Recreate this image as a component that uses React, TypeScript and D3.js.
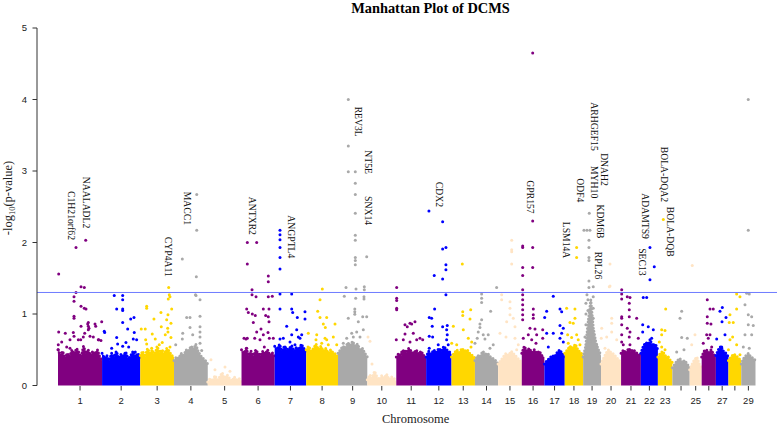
import React from "react";
import * as d3 from "d3";

// Bovine autosomes and approximate lengths (Mb)
const chromosomes = d3.range(1, 30);
const chrLengthsMb = [158,137,121,121,121,119,113,114,105,104,107,91,84,83,85,81,73,66,64,72,71,61,52,62,43,51,45,46,51];
const tickLabels = ["1","2","3","4","5","6","7","8","9","10","11","12","13","14","15","16","17","18","19","20","21","22","23","","25","","27","","29"];
const palette = ["#800080", "#0000FF", "#FFD700", "#A9A9A9", "#FFE4C4"];
const yTicks = [0, 1, 2, 3, 4, 5];
const significance = 0.05;

// Upper edge (-log10 p) of the dense SNP cloud per chromosome, evenly spaced along each chromosome
const cloudTop = [
  [0.50,0.42,0.48,0.38,0.45,0.40,0.50,0.44,0.52,0.46,0.40,0.55,0.45,0.50,0.42,0.48,0.44,0.50,0.40,0.35],
  [0.45,0.38,0.42,0.35,0.45,0.40,0.48,0.38,0.44,0.40,0.46,0.36,0.42,0.48,0.40,0.45,0.38],
  [0.42,0.48,0.40,0.52,0.45,0.50,0.42,0.55,0.46,0.50,0.44,0.52,0.48,0.42,0.40],
  [0.35,0.40,0.38,0.45,0.42,0.50,0.48,0.55,0.50,0.58,0.48,0.42,0.38,0.35,0.30],
  [0.05,0.10,0.06,0.14,0.08,0.12,0.18,0.08,0.15,0.10,0.06,0.12,0.08,0.10,0.04],
  [0.50,0.45,0.52,0.42,0.48,0.40,0.50,0.45,0.42,0.48,0.44,0.50,0.42,0.46,0.40],
  [0.55,0.50,0.58,0.48,0.55,0.50,0.52,0.56,0.48,0.54,0.50,0.58,0.52,0.48],
  [0.50,0.55,0.48,0.52,0.58,0.50,0.55,0.48,0.52,0.45,0.50,0.46,0.44,0.40],
  [0.45,0.50,0.55,0.52,0.60,0.56,0.62,0.55,0.58,0.50,0.52,0.45,0.40],
  [0.08,0.15,0.10,0.20,0.12,0.08,0.14,0.10,0.16,0.08,0.12,0.10,0.06],
  [0.40,0.45,0.42,0.50,0.46,0.52,0.48,0.45,0.50,0.44,0.48,0.42,0.40],
  [0.40,0.48,0.44,0.50,0.46,0.52,0.48,0.55,0.50,0.48,0.44],
  [0.40,0.45,0.50,0.46,0.52,0.48,0.50,0.45,0.42,0.38],
  [0.35,0.42,0.40,0.48,0.44,0.45,0.40,0.38,0.35,0.30],
  [0.30,0.35,0.40,0.45,0.42,0.48,0.44,0.40,0.36,0.32],
  [0.45,0.55,0.48,0.52,0.46,0.50,0.45,0.48,0.42,0.40],
  [0.30,0.35,0.38,0.42,0.40,0.46,0.50,0.45,0.40],
  [0.45,0.50,0.55,0.52,0.58,0.50,0.46,0.42],
  [0.40,0.55,0.90,1.20,0.80,0.60,0.50,0.42],
  [0.30,0.38,0.45,0.50,0.46,0.44,0.40,0.36,0.32],
  [0.45,0.50,0.45,0.52,0.48,0.50,0.46,0.44,0.42],
  [0.45,0.55,0.60,0.58,0.62,0.55,0.58,0.50],
  [0.40,0.45,0.48,0.42,0.40,0.36,0.32],
  [0.25,0.30,0.35,0.38,0.32,0.35,0.30,0.25],
  [0.22,0.30,0.36,0.40,0.30,0.25],
  [0.40,0.48,0.50,0.46,0.50,0.44,0.40],
  [0.42,0.50,0.55,0.48,0.45,0.40],
  [0.35,0.40,0.44,0.42,0.38,0.35],
  [0.30,0.38,0.42,0.45,0.40,0.38,0.35],
];

// Individual SNPs above the dense cloud: [chromosome, position (Mb), -log10 p]
const snps: [number, number, number][] = [
  [1,2.5,1.56],[1,64.5,1.93],[1,99.3,2.03],[1,82.5,1.38],[1,94.3,1.37],[1,64.5,1.30],[1,57.4,1.24],[1,57.4,1.18],[1,82.5,1.11],[1,94.3,1.08],[1,100.4,1.07],[1,57.4,0.97],[1,57.4,0.94],[1,82.5,0.83],[1,108.7,0.88],[1,108.7,0.83],[1,108.7,0.78],[1,132.7,0.86],[1,135.2,0.83],[1,156.7,0.89],[1,2.5,0.75],[1,26.2,0.73],[1,54.9,0.74],[1,57.4,0.69],[1,90.7,0.68],[1,114.8,0.69],[1,31.2,0.54],[1,81.4,0.64],[1,146,0.64],[1,154,0.63],[1,43,0.52],[1,1,0.5],[1,106.5,0.86],[1,111,0.80],[1,95.7,0.73],[1,126.6,0.68],[1,144.5,0.64],[1,72.8,0.64],[1,43,0.64],[1,13.3,0.61],[1,1,0.57],
  [2,43.7,1.26],[2,73.9,1.26],[2,73.9,1.20],[2,52.4,1.07],[2,73.9,1.07],[2,73.9,1.05],[2,114.4,0.95],[2,102.6,0.93],[2,73.9,0.88],[2,91.8,0.79],[2,7.9,0.76],[2,9.3,0.74],[2,115.5,0.74],[2,52.4,0.67],[2,111.9,0.65],[2,124,0.64],[2,85.7,0.60],[2,55.9,0.58],[2,73.9,0.55],[2,95.4,0.54],[2,34.4,0.52],[2,119,0.47],[2,82.1,0.45],
  [3,101.8,1.37],[3,104,1.27],[3,106.5,1.24],[3,100.4,1.21],[3,23,1.11],[3,23,1.08],[3,112.6,1.07],[3,74.2,1.02],[3,99.3,0.99],[3,49.1,0.93],[3,94.7,0.92],[3,110,0.87],[3,3.6,0.79],[3,17.9,0.79],[3,75.3,0.82],[3,98.3,0.80],[3,99.3,0.75],[3,43,0.72],[3,89.6,0.71],[3,19.4,0.64],[3,53.8,0.65],[3,110,0.67],[3,23,0.58],[3,68,0.57],[3,78.9,0.60],[3,40.9,0.52],[3,106.5,0.54],
  [4,81.4,2.67],[4,29.8,1.77],[4,81.4,2.17],[4,80,1.52],[4,78.9,1.26],[4,93.2,1.20],[4,45.5,0.95],[4,57.4,0.95],[4,93.2,0.97],[4,57.4,0.81],[4,93.2,0.82],[4,93.2,0.75],[4,31.2,0.73],[4,67,0.71],[4,93.2,0.68],[4,6,0.57],[4,29.8,0.65],[4,63.5,0.54],[4,93.2,0.59],[4,99.3,0.49],[4,77,1.27],
  [5,11.5,0.36],[5,61.7,0.26],[5,25.8,0.22],[5,79.6,0.20],
  [6,20.8,2.0],[6,54.5,2.0],[6,20.8,1.7],[6,96.1,1.53],[6,96.1,1.45],[6,37.7,1.34],[6,37.7,1.27],[6,52,1.24],[6,96.1,1.24],[6,110.4,1.25],[6,18.6,1.07],[6,24.4,1.02],[6,38.7,1.0],[6,49.5,0.98],[6,78.2,1.07],[6,98.6,1.07],[6,86.8,0.98],[6,96.1,0.96],[6,98.6,0.89],[6,42.3,0.88],[6,54.5,0.75],[6,69.9,0.79],[6,78.2,0.71],[6,95,0.74],[6,99.7,0.66],[6,9,0.66],[6,16.1,0.65],[6,20.8,0.66],[6,47.3,0.66],[6,66.3,0.64],[6,81.8,0.54],[6,114,0.66],[6,18.6,0.52],
  [7,19,2.17],[7,19,2.11],[7,19,2.04],[7,19,1.93],[7,19,1.79],[7,19,1.63],[7,19,1.28],[7,61,1.28],[7,19,1.07],[7,61,1.07],[7,64.5,1.02],[7,81,0.95],[7,108.6,1.03],[7,108.6,0.93],[7,43,0.83],[7,78.9,0.78],[7,96.8,0.71],[7,90.7,0.66],[7,61,0.71],[7,30.8,0.66],[7,19,0.65],[7,54.9,0.61],[7,84.6,0.68],[7,36.9,0.54],[7,72.8,0.57],
  [8,57.7,1.35],[8,49.5,1.20],[8,41.2,1.04],[8,49.5,0.95],[8,73.5,0.95],[8,61.3,0.86],[8,68.5,0.81],[8,103.3,0.86],[8,37.7,0.71],[8,67.4,0.66],[8,73.5,0.64],[8,97.2,0.68],[8,35.1,0.64],[8,7.5,0.73],[8,55.6,0.59],[8,79.2,0.57],[8,109.4,0.57],
  [9,36.9,4.0],[9,36.9,3.35],[9,36.9,2.99],[9,62,2.99],[9,62,2.83],[9,62,2.67],[9,62,2.41],[9,62,2.10],[9,62,2.03],[9,62,1.79],[9,62,1.75],[9,62,1.69],[9,102.9,1.80],[9,28.7,1.37],[9,64.5,1.35],[9,94.3,1.38],[9,94.3,1.34],[9,22.6,1.25],[9,63.5,1.22],[9,93.2,1.24],[9,93.2,1.21],[9,60.2,1.07],[9,60.2,1.03],[9,60.2,0.995],[9,88.6,0.96],[9,102.9,0.96],[9,36.9,0.94],[9,72.8,0.89],[9,90.7,0.78],[9,67,0.75],[9,49.1,0.73],[9,31.2,0.66],[9,19,0.59],[9,54.9,0.68],[9,78.9,0.68],[9,36.9,0.58],
  [10,2.5,0.68],[10,9.7,0.62],[10,17,0.30],
  [11,1.4,1.37],[11,1.4,1.22],[11,1.4,1.19],[11,1.4,1.08],[11,1.4,1.06],[11,0,0.64],[11,31.2,0.85],[11,39.4,0.82],[11,67,0.89],[11,55.2,0.86],[11,31.2,0.72],[11,25.1,0.64],[11,61,0.73],[11,73.2,0.64],[11,85,0.66],[11,94.7,0.64],[11,49.1,0.61],[11,19.4,0.47],[11,49.1,0.87],
  [12,10,2.44],[12,59.2,2.29],[12,59.2,1.91],[12,71,1.93],[12,71,1.69],[12,71,1.62],[12,59.2,1.49],[12,29,1.54],[12,71,1.27],[12,30.5,1.07],[12,11.1,0.95],[12,19.7,0.94],[12,21.9,0.83],[12,59.2,0.82],[12,75.7,0.84],[12,73.5,0.78],[12,11.1,0.69],[12,23.3,0.68],[12,75.7,0.71],[12,73.5,0.64],[12,11.1,0.52],[12,43.4,0.57],[12,79.2,0.57],
  [13,38.7,1.70],[13,40.2,1.03],[13,68.8,1.06],[13,40.2,0.98],[13,66.3,0.93],[13,6.5,0.83],[13,42.3,0.78],[13,60.2,0.66],[13,72.4,0.61],[13,69.9,0.54],[13,0.7,0.59],[13,18.6,0.57],
  [14,77.8,1.37],[14,24,1.28],[14,24,1.22],[14,24,1.16],[14,56.3,1.04],[14,24,0.92],[14,17.9,0.86],[14,17.9,0.81],[14,11.8,0.75],[14,29.8,0.71],[14,47.7,0.71],[14,8.2,0.66],[14,35.9,0.65],[14,65.6,0.57],[14,0,0.59],[14,53.8,0.52],
  [15,48.8,2.03],[15,48.8,1.90],[15,48.8,1.87],[15,48.8,1.70],[15,12.9,1.27],[15,12.9,1.20],[15,42.7,1.17],[15,42.7,1.08],[15,42.7,0.99],[15,54.5,0.94],[15,30.8,0.89],[15,60.6,0.82],[15,6.8,0.73],[15,28.3,0.68],[15,60.6,0.66],[15,72.4,0.57],[15,66.7,0.50],
  [16,39.1,4.65],[16,3.2,1.95],[16,3.2,1.93],[16,39.1,2.30],[16,39.1,1.93],[16,39.1,1.65],[16,3.2,1.65],[16,3.2,1.54],[16,3.2,1.34],[16,3.2,1.27],[16,3.2,1.20],[16,3.2,1.13],[16,3.2,1.06],[16,3.2,0.99],[16,3.2,0.92],[16,41.2,1.07],[16,41.2,0.99],[16,41.2,0.94],[16,29.4,0.80],[16,47.3,0.79],[16,53.4,0.71],[16,23.3,0.71],[16,5.4,0.66],[16,35.5,0.64],[16,50.9,0.59],[16,75,0.78],[16,75,0.66],
  [17,31.9,1.25],[17,8.2,1.04],[17,1,0.95],[17,8.2,0.73],[17,31.9,0.73],[17,55.9,1.07],[17,62,1.03],[17,55.9,0.84],[17,67.8,0.80],[17,62,0.73],[17,55.9,0.66],[17,67.8,0.61],[17,14,0.54],
  [18,42.7,1.93],[18,42.7,1.79],[18,6.8,1.08],[18,36.6,1.07],[18,36.6,0.94],[18,18.6,0.88],[18,30.5,0.87],[18,10.4,0.71],[18,24.7,0.67],[18,42.7,0.71],[18,48.4,0.64],[18,12.6,0.59],[18,54.5,0.57],[18,18.6,0.54],
  [19,21.9,2.41],[19,2.9,2.17],[19,13.6,2.17],[19,24.4,2.17],[19,20.8,2.03],[19,20.8,1.93],[19,20.8,1.79],[19,20.8,1.75],[19,20.8,1.46],[19,20.8,1.37],[19,36.2,1.38],[19,13.6,1.27],[19,36.2,1.24],[19,17.2,1.20],[19,10,1.15],[19,36.2,1.08],[19,17.2,1.05],[19,10,1.0],[19,36.2,0.94],[19,20.8,0.90],[19,10,0.85],[19,30.5,0.80],[19,17.2,0.75],[19,36.2,0.71],[19,6.5,0.68],[19,24.4,0.62],[19,48.4,0.57],
  [20,32.3,1.70],[20,32.3,1.39],[20,29.8,1.38],[20,38.4,0.94],[20,38.4,0.87],[20,2.5,0.80],[20,38.4,0.75],[20,20.4,0.68],[20,1,0.66],[20,56.3,0.64],[20,14.3,0.52],
  [21,2.2,1.34],[21,2.2,1.28],[21,2.2,1.21],[21,22.2,1.24],[21,31.9,1.23],[21,29.4,1.15],[21,29.4,1.06],[21,2.2,0.96],[21,2.2,0.94],[21,29.4,0.96],[21,55.9,0.94],[21,2.2,0.85],[21,22.2,0.80],[21,31.9,0.75],[21,2.2,0.71],[21,29.4,0.68],[21,61.7,0.66],[21,2.2,0.61],[21,31.9,0.57],[21,7.9,0.57],
  [22,32.6,1.93],[22,48,1.66],[22,32.6,1.48],[22,8.6,1.23],[22,20.8,1.23],[22,6.5,0.85],[22,26.5,0.82],[22,44.5,0.78],[22,6.5,0.75],[22,38.7,0.66],[22,32.6,0.64],[22,14.7,0.57],[22,44.5,0.57],[22,26.5,0.54],
  [23,19.4,2.32],[23,28,1.07],[23,13.6,0.78],[23,25.5,0.77],[23,13.6,0.71],[23,5,0.61],[23,13.6,0.54],[23,25.5,0.50],[23,37.3,0.40],
  [24,33.3,1.04],[24,27.3,0.94],[24,33.3,0.67],[24,53.4,0.66],[24,41.6,0.50],[24,15.4,0.47],
  [25,9.3,1.68],[25,19,0.71],[25,7.2,0.57],
  [26,20.1,1.20],[26,29.8,1.07],[26,41.6,1.07],[26,20.1,0.96],[26,20.1,0.87],[26,33.3,0.86],[26,17.9,0.71],[26,29.8,0.71],[26,23.7,0.66],[26,5.7,0.59],[26,35.9,0.54],[26,11.8,0.47],
  [27,23,1.09],[27,14.7,1.04],[27,36.2,0.95],[27,21.9,0.89],[27,32.6,0.71],[27,2.9,0.65],[27,20.8,0.54],[27,29,0.45],
  [28,29.4,1.28],[28,41.2,1.24],[28,29.4,1.07],[28,5.4,0.99],[28,17.2,0.88],[28,2.9,0.88],[28,15,0.68],[28,5.4,0.64],[28,29.4,0.57],[28,41.2,0.43],[28,0,0.50],
  [29,25.1,4.0],[29,25.1,2.17],[29,19.4,1.29],[29,28.7,1.28],[29,13.3,1.13],[29,25.1,0.99],[29,37.3,0.96],[29,25.1,0.85],[29,43,0.84],[29,13.3,0.71],[29,37.3,0.71],[29,7.2,0.54],[29,28.7,0.52],
];

// Gene annotations: name, chromosome, position (Mb), -log10 p at which the label starts
const geneNames = ["NAALADL2","C1H21orf62","MACC1","CYP4A11","ANTXR2","ANGPTL4","REV3L","NT5E","SNX14","CDX2","GPR157","ARHGEF15","DNAH2","MYH10","ODF4","KDM6B","LSM14A","RPL26","BOLA-DQA2","ADAMTS9","BOLA-DQB","SEC13"];
const geneChr = [1,1,4,3,6,7,9,9,9,12,16,19,20,19,18,19,18,19,23,22,23,22];
const genePos = [102.9,47.7,45.5,101.8,38.7,57.4,73.2,109,109,45.2,29.4,39.8,11.8,39.8,54.5,60.2,6.8,54.1,21.9,17.2,45.9,6.5];
const geneTop = [2.92,2.72,2.71,2.08,2.64,2.38,3.90,3.29,2.65,2.85,2.87,3.96,3.25,3.07,2.90,2.53,2.29,1.87,3.34,2.69,2.50,1.92];

const W = 777, H = 425;
const chrStarts = chrLengthsMb.map((_, i) => d3.sum(chrLengthsMb.slice(0, i)));
const totalMb = d3.sum(chrLengthsMb);

export default function App() {
  const x = d3.scaleLinear().domain([0, totalMb]).range([58, 755.5]);
  const y = d3.scaleLinear().domain([0, 5]).range([385.5, 28]);
  const color = (chr: number) => palette[(chr - 1) % palette.length];
  const gx = (chr: number, pos: number) => x(chrStarts[chr - 1] + pos);

  const area = d3.area<[number, number]>()
    .x((d) => x(d[0]))
    .y0(y(0))
    .y1((d) => y(d[1]))
    .curve(d3.curveLinear);
  const edge = d3.line<[number, number]>()
    .x((d) => x(d[0]))
    .y((d) => y(d[1]))
    .curve(d3.curveLinear);

  const serif = "'Liberation Serif', 'Times New Roman', serif";
  const sans = "'Liberation Sans', Arial, sans-serif";
  const thr = -Math.log10(significance);

  return (
    <svg width={W} height={H} style={{ position: "absolute", left: 0, top: 0, background: "#fff" }}>
      <text x={430.5} y={12.5} textAnchor="middle" fontFamily={serif} fontWeight="bold" fontSize={14.4}>
        Manhattan Plot of DCMS
      </text>

      {/* dense SNP clouds */}
      {chromosomes.map((chr, i) => {
        const tops = cloudTop[i];
        const len = chrLengthsMb[i];
        const pts: [number, number][] = tops.map((v, j) => [chrStarts[i] + (len * j) / (tops.length - 1), v]);
        return (
          <g key={"a" + chr}>
            <path d={area(pts) || ""} fill={color(chr)} />
            <path d={edge(pts) || ""} fill="none" stroke={color(chr)} strokeWidth={3}
              strokeLinecap="round" strokeDasharray="0 3.2" />
          </g>
        );
      })}

      {/* individual SNPs */}
      {snps.map(([chr, pos, v], i) => (
        <circle key={"p" + i} cx={gx(chr, pos)} cy={y(v)} r={1.5} fill={color(chr)} />
      ))}

      {/* significance line */}
      <line x1={37} x2={777} y1={y(thr)} y2={y(thr)} stroke="#6f7cff" strokeWidth={1} />

      {/* y axis */}
      <line x1={37} x2={37} y1={y(0)} y2={y(5)} stroke="#333" strokeWidth={1} />
      {yTicks.map((t) => (
        <g key={"yt" + t}>
          <line x1={32.5} x2={37} y1={y(t)} y2={y(t)} stroke="#333" />
          <text x={24.5} y={y(t) + 3.3} textAnchor="middle" fontFamily={sans} fontSize={9.5} fill="#222">{t}</text>
        </g>
      ))}
      <text transform={`translate(12,${198}) rotate(-90)`} textAnchor="middle" fontFamily={serif} fontSize={12.5} fill="#222">
        -log<tspan fontSize={8.5} dy={3}>10</tspan><tspan dy={-3}>(p-value)</tspan>
      </text>

      {/* x axis ticks */}
      {chromosomes.map((chr, i) => {
        const cx = x(chrStarts[i] + chrLengthsMb[i] / 2);
        return (
          <g key={"xt" + chr}>
            <line x1={cx} x2={cx} y1={386} y2={390.5} stroke="#333" />
            <text x={cx} y={404} textAnchor="middle" fontFamily={sans} fontSize={9.5} fill="#222">{tickLabels[i]}</text>
          </g>
        );
      })}
      <text x={415.7} y={423} textAnchor="middle" fontFamily={serif} fontSize={12.5} fill="#222">Chromosome</text>

      {/* gene labels */}
      {geneNames.map((g, i) => (
        <text key={g} transform={`translate(${gx(geneChr[i], genePos[i]) - 3.2},${y(geneTop[i])}) rotate(90)`}
          fontFamily={serif} fontSize={9.7} fill="#111">{g}</text>
      ))}
    </svg>
  );
}
